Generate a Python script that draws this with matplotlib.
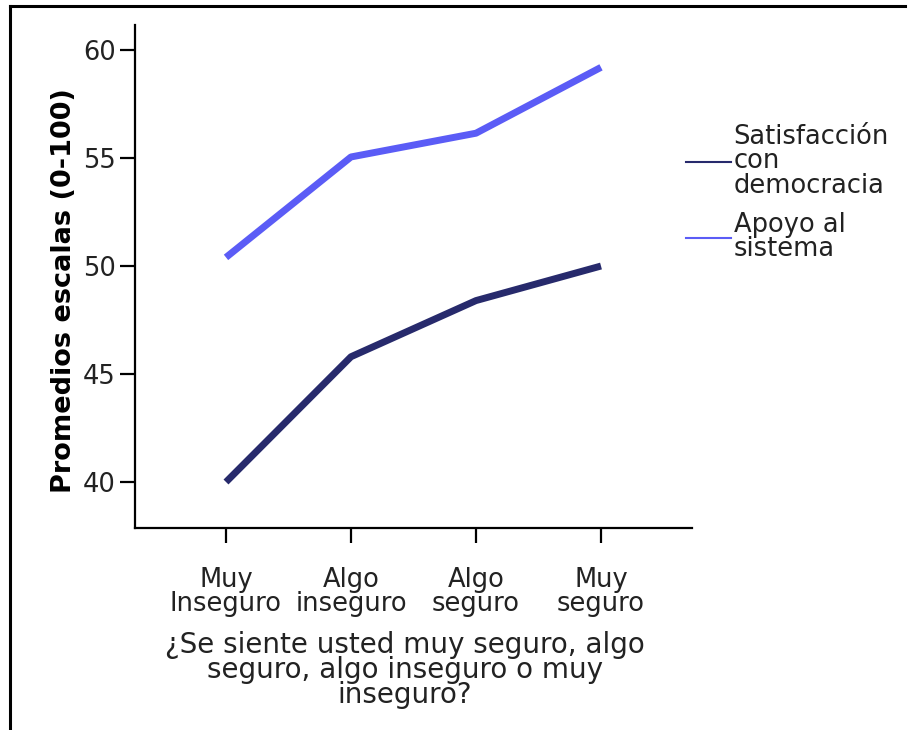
import matplotlib
matplotlib.use('Agg')
import matplotlib.pyplot as plt
from matplotlib.lines import Line2D

categories = ['Muy\nInseguro', 'Algo\ninseguro', 'Algo\nseguro', 'Muy\nseguro']
satisfaccion = [40.0, 45.8, 48.4, 50.0]
apoyo = [50.4, 55.05, 56.15, 59.2]
y_ticks = [40, 45, 50, 55, 60]

dark = '#272a6c'
light = '#5b5cf6'

plt.rcParams['font.family'] = ['DejaVu Sans']

fig = plt.figure(figsize=(9.08, 7.3), dpi=100)
ax = fig.add_axes([135 / 908, 1 - 528 / 730, (692 - 135) / 908, (528 - 25) / 730])

x = list(range(len(categories)))
ax.plot(x, satisfaccion, color=dark, linewidth=5, solid_capstyle='butt')
ax.plot(x, apoyo, color=light, linewidth=5, solid_capstyle='butt')

ax.set_xlim(-0.728, 3.728)
ax.set_ylim(37.87, 61.16)
ax.set_xticks(x)
ax.set_xticklabels(categories, fontsize=18.5, color='#222222', linespacing=0.92)
ax.set_yticks(y_ticks)
ax.set_yticklabels([str(v) for v in y_ticks], fontsize=18.5, color='#222222')
ax.tick_params(axis='both', direction='out', length=11, width=1.6, pad=3)
ax.tick_params(axis='x', pad=17)
for side in ['top', 'right']:
    ax.spines[side].set_visible(False)
for side in ['left', 'bottom']:
    ax.spines[side].set_linewidth(1.6)

ax.set_ylabel('Promedios escalas (0-100)', fontsize=19.5, fontweight='bold')
ax.yaxis.set_label_coords(-0.104, 0.473)
fig.text(405 / 908, 1 - 670 / 730,
         '¿Se siente usted muy seguro, algo\nseguro, algo inseguro o muy\ninseguro?',
         ha='center', va='center', fontsize=20, color='#222222', linespacing=0.88)

# legend at right
handles = [Line2D([0], [0], color=dark, linewidth=1.5),
           Line2D([0], [0], color=light, linewidth=1.5)]
leg = fig.legend(handles, ['Satisfacción\ncon\ndemocracia', 'Apoyo al\nsistema'],
                 loc='upper left', bbox_to_anchor=(686 / 908, 1 - 124 / 730),
                 frameon=False, fontsize=18.5, handlelength=1.75, handletextpad=0.1,
                 labelspacing=0.5, borderaxespad=0, borderpad=0)
for t in leg.get_texts():
    t.set_linespacing(0.92)
    t.set_color('#222222')

# outer frame (top and left only)
fig.add_artist(Line2D([10 / 908, 905 / 908], [1 - 6 / 730, 1 - 6 / 730], color='black', linewidth=2.2))
fig.add_artist(Line2D([10 / 908, 10 / 908], [1 - 6 / 730, 0], color='black', linewidth=2.2))

fig.savefig('out.png', dpi=100)
